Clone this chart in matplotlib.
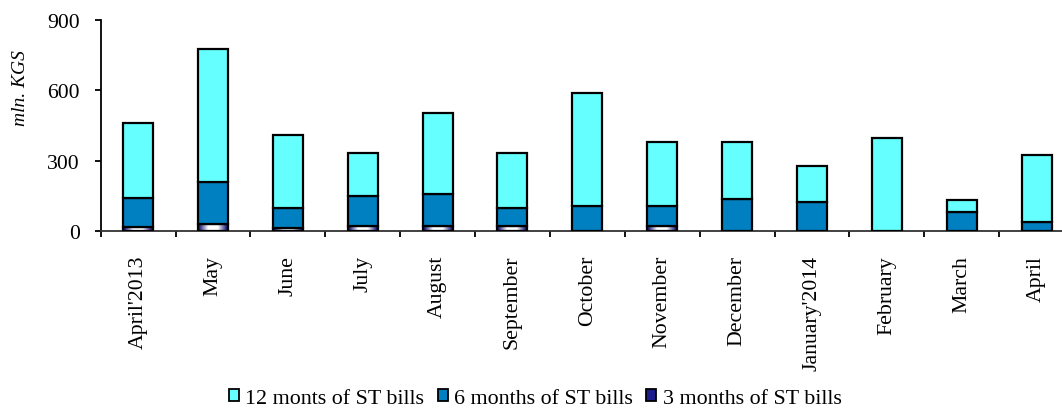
#Stacked bars of ST bills placements by maturity, mln. KGS.

import matplotlib.pyplot as plt
import numpy as np
from matplotlib.colors import LinearSegmentedColormap
from matplotlib.patches import Patch

plt.rcParams['font.family'] = ['Liberation Serif', 'DejaVu Serif']

#Categories and values.
months = ["April'2013", "May", "June", "July", "August", "September", "October",
          "November", "December", "January'2014", "February", "March", "April"]
bills_3m = [20, 31, 12, 21, 21, 21, 0, 21, 0, 0, 0, 0, 0]
bills_6m = [120, 177, 86, 128, 136, 77, 106, 85, 139, 123, 0, 81, 38]
bills_12m = [322, 567, 313, 185, 347, 236, 483, 272, 239, 155, 395, 52, 288]

c12 = '#66FFFF'
c6 = '#0080C0'
fs = 15.7

fig = plt.figure(figsize=(10.62, 4.10), dpi=100)
ax = fig.add_axes([0.0948, 0.4334, 0.9165, 0.5161])

x = np.arange(len(months))
b3 = np.array(bills_3m)
b6 = np.array(bills_6m)
b12 = np.array(bills_12m)
w = 0.4
lw = 1.6

#3 months: navy-white-navy gradient clipped to each bar
grad_cmap = LinearSegmentedColormap.from_list('g', ['#000066', '#ffffff', '#ffffff', '#000066'])
grad = np.linspace(0, 1, 64).reshape(1, -1)
bars3 = ax.bar(x, b3, w, facecolor='none', edgecolor='black', linewidth=lw, zorder=3)
for r, v in zip(bars3, b3):
    if v <= 0:
        continue
    x0, y0 = r.get_x(), r.get_y()
    im = ax.imshow(grad, extent=[x0, x0 + r.get_width(), y0, y0 + r.get_height()],
                   cmap=grad_cmap, aspect='auto', zorder=2, interpolation='bilinear')
    im.set_clip_path(r)

ax.bar(x, b6, w, bottom=b3, color=c6, edgecolor='black', linewidth=lw, zorder=3)
ax.bar(x, b12, w, bottom=b3 + b6, color=c12, edgecolor='black', linewidth=lw, zorder=3)

ax.set_xlim(-0.5, len(months) - 0.5)
ax.set_ylim(0, 900)
ax.set_yticks([0, 300, 600, 900])
ax.set_xticks(x)
ax.set_xticklabels(months, rotation=90, fontsize=fs)
ax.set_xticks(np.arange(len(months) + 1) - 0.5, minor=True)
ax.tick_params(axis='x', which='major', length=0, pad=17)
ax.tick_params(axis='x', which='minor', length=4, width=1.3, direction='out')
ax.tick_params(axis='y', length=4, width=1.3, direction='out', labelsize=fs, pad=11)

for s in ['top', 'right']:
    ax.spines[s].set_visible(False)
ax.spines['left'].set_linewidth(1.3)
ax.spines['bottom'].set_linewidth(1.3)
ax.spines['bottom'].set_color('#333333')

fig.text(0.019, 0.785, 'mln. KGS', rotation=90, style='italic', fontsize=14,
         ha='center', va='center')

handles = [Patch(facecolor=c12, edgecolor='black', linewidth=1.3),
           Patch(facecolor=c6, edgecolor='black', linewidth=1.3),
           Patch(facecolor='#1c1c8a', edgecolor='black', linewidth=1.3)]
labels = ['12 monts of ST bills', '6 months of ST bills', '3 months of ST bills']
fig.legend(handles, labels, loc='center', bbox_to_anchor=(0.504, 0.026), ncol=3,
           frameon=False, fontsize=15.8, handlelength=0.45, handleheight=0.45,
           handletextpad=0.3, columnspacing=0.6, borderpad=0)

fig.savefig('out.png', dpi=100)
